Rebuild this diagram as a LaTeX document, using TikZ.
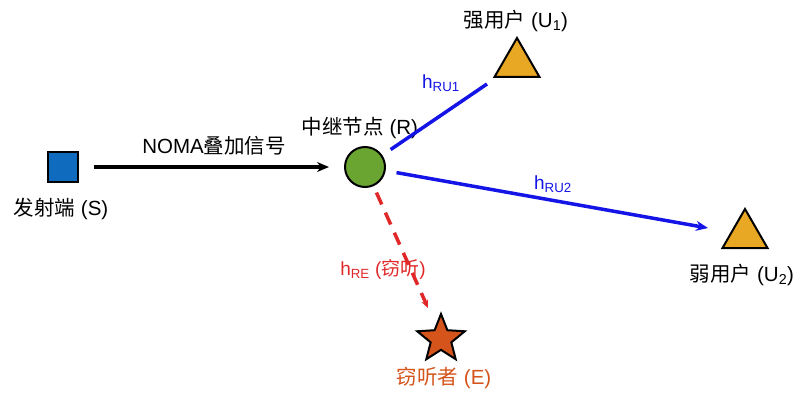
\documentclass[tikz,border=0pt]{standalone}
\usepackage{fontspec}
\setmainfont{Liberation Sans}
\newfontfamily\cjk{Noto Sans CJK SC}
\usetikzlibrary{arrows.meta,shapes.geometric}
\definecolor{SqBlue}{HTML}{0E6BBE}
\definecolor{LinkBlue}{HTML}{1414E6}
\definecolor{Leaf}{HTML}{6AA531}
\definecolor{Amber}{HTML}{E9A823}
\definecolor{Rust}{HTML}{D4541C}
\definecolor{EveRed}{HTML}{E02828}

\begin{document}
\begin{tikzpicture}[x=1pt,y=-1pt,
 lbl/.style={font=\fontsize{20.5}{22}\selectfont,inner sep=0pt},
 chan/.style={font=\fontsize{19}{21}\selectfont,inner sep=0pt},
 user/.style={regular polygon,regular polygon sides=3,draw=black,line width=2pt,
   fill=Amber,minimum size=52pt,inner sep=0pt},
 link/.style={draw=LinkBlue,line width=3.5pt},
 tip/.style={-{Stealth[length=12pt,width=10pt]}}]
\useasboundingbox (0,0) rectangle (793,393);
% nodes
\node[draw=black,line width=2pt,fill=SqBlue,minimum size=30pt,inner sep=0pt] (src) at (63,167) {};
\node[circle,draw=black,line width=2pt,fill=Leaf,minimum size=40pt,inner sep=0pt] (relay) at (365,167) {};
\node[user] (strong) at (517,64) {};
\node[user] (weak) at (745,235) {};
\node[star,star points=5,star point ratio=2.3,draw=black,line width=2pt,fill=Rust,
  minimum size=50pt,inner sep=0pt] (eve) at (441,339) {};
% labels
\node[lbl] (srcl) at (61,209) {{\cjk 发射端} (S)};
\node[lbl] (relayl) at (360,128) {{\cjk 中继节点} (R)};
\node[lbl] (strongl) at (516,21) {{\cjk 强用户} (U\textsubscript{1})};
\node[lbl] (weakl) at (742,275) {{\cjk 弱用户} (U\textsubscript{2})};
\node[lbl,text=Rust] (evel) at (444,378) {{\cjk 窃听者} (E)};
\node[lbl] (noma) at (214,146) {NOMA{\cjk 叠加信号}};
% links
\coordinate (ru1) at (487,84);
\coordinate (ru2) at (708,228);
\coordinate (re) at (428,308);
\draw[tip,line width=3.5pt,shorten <=15pt,shorten >=15pt] (src) -- (relay);
\draw[link,shorten <=31pt] (relay.center) -- (ru1);
\draw[link,tip,shorten <=32pt] (relay.center) -- (ru2);
\draw[EveRed,line width=3.5pt,dash pattern=on 13pt off 9pt,-{Stealth[length=8pt,width=7pt]},
  shorten <=28pt] (relay.center) -- (re);
\node[chan,text=LinkBlue] (h1) at (441,83) {h\textsubscript{RU1}};
\node[chan,text=LinkBlue] (h2) at (553,184) {h\textsubscript{RU2}};
\node[chan,text=EveRed] (h3) at (383,269) {h\textsubscript{RE} ({\cjk 窃听})};
\end{tikzpicture}
\end{document}
